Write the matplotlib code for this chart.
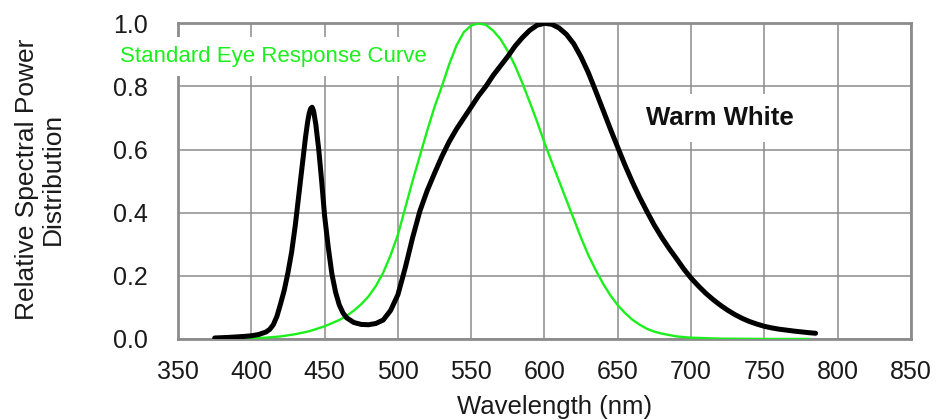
#!/usr/bin/env python3
"""Relative spectral power of a warm white LED against the eye response curve."""
import matplotlib
matplotlib.use("Agg")
import matplotlib.pyplot as plt

# warm white LED spectrum (nm, relative power)
led_nm = [375, 385, 395, 400, 405, 410, 412.5, 415, 417.5, 420, 422.5, 425, 427.5,
          430, 432.5, 435, 437, 438.5, 439.5, 440.5, 441.5, 442.5, 444, 446, 448,
          450, 452.5, 455, 457.5, 460, 462.5, 465, 470, 475, 480, 485, 490, 495,
          500, 505, 510, 515, 520, 525, 530, 535, 540, 545, 550, 555, 560, 565,
          570, 575, 580, 585, 590, 595, 600, 605, 610, 615, 620, 625, 630, 635,
          640, 645, 650, 655, 660, 665, 670, 675, 680, 685, 690, 695, 700, 705,
          710, 715, 720, 725, 730, 735, 740, 745, 750, 755, 760, 770, 780, 785]
led_power = [0.003, 0.005, 0.008, 0.010, 0.014, 0.022, 0.030, 0.045, 0.072, 0.112,
             0.155, 0.210, 0.275, 0.360, 0.460, 0.560, 0.640, 0.690, 0.715, 0.730,
             0.734, 0.722, 0.680, 0.600, 0.500, 0.390, 0.290, 0.205, 0.148, 0.108,
             0.083, 0.067, 0.052, 0.046, 0.045, 0.049, 0.060, 0.090, 0.140, 0.225,
             0.320, 0.405, 0.470, 0.525, 0.578, 0.625, 0.665, 0.700, 0.735, 0.770,
             0.800, 0.835, 0.865, 0.895, 0.928, 0.955, 0.978, 0.994, 1.000, 0.997,
             0.985, 0.965, 0.935, 0.893, 0.843, 0.785, 0.725, 0.665, 0.607, 0.550,
             0.497, 0.448, 0.403, 0.360, 0.322, 0.287, 0.255, 0.222, 0.193, 0.168,
             0.145, 0.125, 0.107, 0.091, 0.077, 0.065, 0.055, 0.047, 0.040, 0.035,
             0.031, 0.025, 0.020, 0.018]

# standard eye response (photopic)
eye_nm = [380, 390, 400, 410, 420, 430, 440, 450, 460, 465, 470, 475, 480, 485,
          490, 495, 500, 505, 510, 515, 520, 525, 530, 535, 540, 545, 550, 555,
          560, 565, 570, 575, 580, 585, 590, 595, 600, 605, 610, 615, 620, 625,
          630, 635, 640, 645, 650, 655, 660, 665, 670, 675, 680, 690, 700, 720,
          750, 780]
eye_response = [0.000, 0.001, 0.002, 0.004, 0.008, 0.015, 0.025, 0.040, 0.060, 0.073,
                0.090, 0.110, 0.135, 0.168, 0.210, 0.265, 0.330, 0.415, 0.500, 0.580,
                0.660, 0.735, 0.800, 0.870, 0.930, 0.972, 0.993, 1.000, 0.995, 0.977,
                0.950, 0.912, 0.865, 0.810, 0.750, 0.688, 0.622, 0.560, 0.500, 0.440,
                0.380, 0.320, 0.265, 0.218, 0.175, 0.138, 0.107, 0.082, 0.061, 0.045,
                0.032, 0.023, 0.017, 0.008, 0.004, 0.001, 0.000, 0.000]

x_ticks = [350, 400, 450, 500, 550, 600, 650, 700, 750, 800, 850]
y_ticks = [0.0, 0.2, 0.4, 0.6, 0.8, 1.0]

GREEN = "#1cf01c"

plt.rcParams["font.family"] = ["Liberation Sans", "DejaVu Sans"]

fig = plt.figure(figsize=(9.4, 4.2), dpi=100)
ax = fig.add_axes([0.1894, 0.193, 0.7796, 0.7515])

ax.plot(eye_nm, eye_response, color=GREEN, lw=1.7, solid_joinstyle="round", zorder=3)
ax.plot(led_nm, led_power, color="black", lw=3.6, solid_capstyle="round",
        solid_joinstyle="round", zorder=4)

ax.set_xlim(350, 850)
ax.set_ylim(0, 1.0)
ax.set_xticks(x_ticks)
ax.set_yticks(y_ticks)
ax.set_yticklabels([f"{v:.1f}" for v in y_ticks])
ax.grid(True, color="#8c8c8c", lw=1.1)
ax.set_axisbelow(True)
ax.tick_params(axis="both", length=0, labelsize=18, labelcolor="#1a1a1a")
ax.tick_params(axis="x", pad=15)
ax.tick_params(axis="y", pad=22)
for s in ax.spines.values():
    s.set_color("#8c8c8c")
    s.set_linewidth(2.0)

ax.text(310.4, 0.896, "Standard Eye Response Curve", color=GREEN, fontsize=16,
        va="center", ha="left", clip_on=False, zorder=5,
        bbox=dict(boxstyle="square,pad=0.4", fc="white", ec="none"))
ax.text(719.4, 0.70, "Warm White", color="#111111", fontsize=18.5, fontweight="bold",
        va="center", ha="center", zorder=5,
        bbox=dict(boxstyle="square,pad=0.45", fc="white", ec="none"))

fig.text(555 / 940, 1 - 395 / 420, "Wavelength (nm)", fontsize=18.5, color="#1a1a1a",
         ha="center", va="top")
fig.text(40 / 940, 1 - 179 / 420, "Relative Spectral Power\nDistribution", fontsize=19,
         color="#1a1a1a", ha="center", va="center", rotation=90, multialignment="center",
         linespacing=1.1)

fig.savefig("out.png", dpi=100)
plt.close(fig)
